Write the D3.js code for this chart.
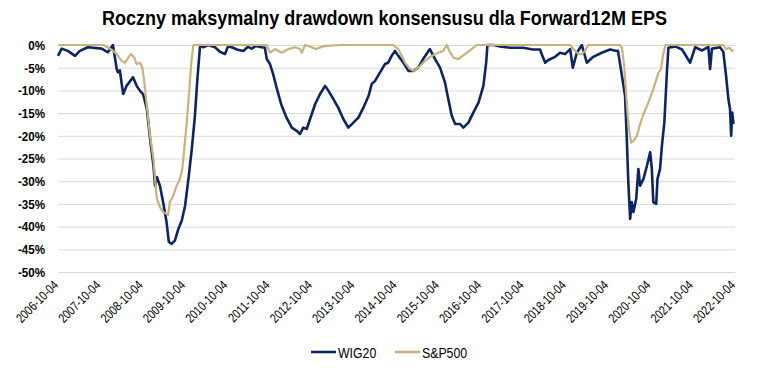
<!DOCTYPE html>
<html>
<head>
<meta charset="utf-8">
<script src="https://cdn.jsdelivr.net/npm/d3@7"></script>
<style>
  body { margin: 0; background: #fff; }
  svg { display: block; }
  text { font-family: "Liberation Sans", Arial, sans-serif; }
</style>
</head>
<body>
<svg id="chart" width="760" height="378"></svg>
<script>
/* ---- data ---- */

var title = "Roczny maksymalny drawdown konsensusu dla Forward12M EPS"

var xTickLabels = ["2006-10-04","2007-10-04","2008-10-04","2009-10-04","2010-10-04","2011-10-04",
  "2012-10-04","2013-10-04","2014-10-04","2015-10-04","2016-10-04","2017-10-04","2018-10-04",
  "2019-10-04","2020-10-04","2021-10-04","2022-10-04"]

var yTicks = [0,-5,-10,-15,-20,-25,-30,-35,-40,-45,-50]

var seriesNames = ["WIG20","S&P500"]

// WIG20 drawdown, %
var wigDates = ["2006-10-04","2006-11-05","2006-12-28","2007-02-28","2007-04-11","2007-06-19","2007-10-16",
  "2007-12-09","2008-01-21","2008-02-23","2008-03-04","2008-03-21","2008-04-06","2008-04-19","2008-05-18",
  "2008-07-12","2008-08-13","2008-09-11","2008-10-07","2008-11-09","2008-12-07","2009-01-05","2009-01-19",
  "2009-02-04","2009-03-02","2009-03-29","2009-04-28","2009-05-18","2009-06-11","2009-07-09","2009-08-08",
  "2009-09-06","2009-10-05","2009-11-03","2009-12-02","2009-12-29","2010-01-19","2010-02-12","2010-03-10",
  "2010-04-22","2010-06-20","2010-08-02","2010-09-15","2010-10-10","2010-11-12","2010-12-26","2011-02-20",
  "2011-04-01","2011-05-02","2011-06-09","2011-07-27","2011-08-25","2011-09-10","2011-10-08","2011-11-06",
  "2011-12-05","2012-01-17","2012-02-28","2012-04-13","2012-05-25","2012-06-23","2012-07-21","2012-08-20",
  "2012-09-18","2012-11-01","2012-12-13","2013-01-26","2013-02-24","2013-04-07","2013-05-19","2013-07-02",
  "2013-08-14","2013-09-27","2013-11-09","2013-12-22","2014-02-05","2014-03-04","2014-04-02","2014-05-14",
  "2014-06-26","2014-07-24","2014-08-23","2014-09-21","2014-10-20","2014-12-03","2015-01-15","2015-02-27",
  "2015-04-10","2015-05-22","2015-07-19","2015-09-02","2015-10-15","2015-11-27","2015-12-25","2016-01-24",
  "2016-02-22","2016-04-05","2016-05-03","2016-06-16","2016-07-28","2016-09-11","2016-10-23","2016-11-16",
  "2016-11-27","2017-01-18","2017-03-15","2017-06-10","2017-10-01","2017-12-26","2018-02-25","2018-03-10",
  "2018-04-09","2018-05-07","2018-07-04","2018-08-16","2018-09-28","2018-11-11","2018-12-04","2019-01-08",
  "2019-02-20","2019-04-04","2019-05-29","2019-08-11","2019-10-21","2019-12-18","2019-12-29","2020-02-01",
  "2020-02-28","2020-03-14","2020-03-27","2020-04-12","2020-04-26","2020-05-10","2020-06-03","2020-06-22",
  "2020-07-07","2020-08-05","2020-09-04","2020-10-02","2020-10-16","2020-10-29","2020-11-23","2020-12-04",
  "2020-12-26","2021-01-11","2021-02-01","2021-02-23","2021-03-08","2021-05-05","2021-07-04","2021-09-12",
  "2021-10-25","2021-12-24","2022-02-16","2022-03-03","2022-03-19","2022-05-28","2022-06-25","2022-07-19",
  "2022-08-08","2022-08-22","2022-09-01","2022-09-10","2022-09-21"]
var wigValues = [-2.4,-0.8,-1.3,-2.4,-1.3,-0.5,-0.8,
  -1.6,0,-5.3,-6,-5.6,-8.6,-10.8,-9,
  -7.1,-9,-10.1,-10.8,-14.1,-20.7,-26.6,-31,
  -29.1,-31,-34.6,-39,-43.4,-43.8,-43.1,-40.5,
  -38.7,-35.4,-29.5,-22.9,-15.6,-7.5,0,-0.5,
  0,-0.5,-1.5,-2,-0.3,-0.5,-1,-1.3,
  -0.4,-0.8,-0.2,-0.5,-0.6,-3.1,-4.2,-6.6,
  -9.5,-13.4,-16,-18.2,-18.9,-19.6,-18.2,-18.5,
  -16.3,-13,-10.8,-9,-10.1,-11.9,-13.8,-16.3,
  -18.2,-17.1,-16,-13.8,-11.2,-8.6,-7.9,-6.1,
  -4.2,-3.9,-2.4,-1.3,-2.4,-3.9,-5.7,-5.7,
  -5,-3.1,-0.9,-3.1,-5,-8.3,-11.9,-15.6,
  -17.4,-17.4,-18.2,-17.1,-14.9,-12.7,-9,-3.9,
  0,0,-0.3,-0.6,-0.6,-1,-1,-2,
  -3.9,-3.3,-2.6,-1.7,-2,-0.9,-5,-1.7,
  0,-3.9,-2.6,-1.7,-1,-1.3,-1.3,-6.8,
  -11.2,-20.7,-30.2,-38.3,-34.6,-36.8,-33.9,-27.3,
  -31,-29.5,-26.6,-23.6,-27.3,-34.6,-35,-29.5,
  -27.3,-22.2,-17.1,-6.1,-0.6,-0.3,-1,-3.9,
  -0.5,-1.2,-0.4,-5.3,-0.8,-0.5,-1.5,-6.8,
  -11.9,-14.1,-20,-14.9,-17.4]

// S&P500 drawdown, %
var spxDates = ["2006-10-04","2007-10-29","2007-12-12","2008-01-24","2008-02-23","2008-04-06","2008-05-04",
  "2008-06-02","2008-06-24","2008-07-23","2008-08-13","2008-09-11","2008-10-01","2008-10-18","2008-11-09",
  "2008-12-07","2009-01-05","2009-01-19","2009-02-04","2009-03-02","2009-03-29","2009-04-28","2009-05-12",
  "2009-05-26","2009-06-25","2009-07-24","2009-08-22","2009-09-11","2009-09-28","2009-10-19","2009-11-09",
  "2009-11-25","2009-12-15","2011-09-10","2011-10-08","2011-11-20","2012-01-17","2012-03-14","2012-05-11",
  "2012-06-23","2012-07-08","2012-08-06","2012-10-03","2012-11-01","2013-01-26","2013-06-18","2014-09-05",
  "2014-10-20","2014-11-19","2014-12-17","2015-01-29","2015-02-27","2015-04-10","2015-06-07","2015-08-04",
  "2015-09-30","2015-11-13","2015-11-27","2015-12-12","2016-01-10","2016-02-08","2016-03-20","2016-05-17",
  "2016-07-14","2016-08-27","2018-11-11","2018-12-09","2019-01-22","2019-02-20","2019-03-19","2019-04-17",
  "2020-01-14","2020-02-01","2020-02-20","2020-03-08","2020-03-22","2020-04-06","2020-04-20","2020-05-10",
  "2020-06-09","2020-07-07","2020-08-05","2020-09-04","2020-10-02","2020-10-29","2020-11-29","2020-12-13",
  "2021-01-03","2021-01-20","2021-02-10","2022-06-25","2022-07-19","2022-08-17","2022-09-07","2022-09-21"]
var spxValues = [0,0,-0.6,-1.3,-2,-3.5,-3.9,
  -2.8,-2,-2.8,-4.2,-3.9,-5,-8.3,-13.4,
  -20,-25.1,-29.5,-33.9,-35.7,-36.8,-37.2,-37.5,
  -34.6,-33.2,-31,-29.5,-27.3,-22.9,-17.1,-10.5,
  -4.6,0,0,-1.7,-0.9,-1.7,-0.9,-0.5,
  -0.9,-1.7,0,-0.5,-0.9,-0.2,0,0,
  -0.9,-2.4,-3.9,-5.3,-5.7,-5,-3.5,-2.4,
  -1.7,-1.3,-0.6,0,-1.7,-2.8,-3.1,-2,
  -0.9,0,0,-0.9,-2,-2,-1.3,0,
  0,-0.6,-4.6,-10.5,-15.6,-19.3,-21.5,-21.1,
  -20,-17.4,-15.2,-13.4,-11.6,-9.7,-7.2,-6.1,
  -5.3,-2.4,0,0,-0.9,-0.6,-1.3,-1.0]

/* ---- layout ---- */

var width = 760, height = 378
var margin = {left: 58, right: 25, top: 45, bottom: 106}
var colors = ["#0d2663", "#c9b27c"]

var parse = d3.timeParse("%Y-%m-%d")

var svg = d3.select("#chart")

var x = d3.scaleTime()
    .domain([parse("2006-10-04"), parse("2022-10-04")])
    .range([margin.left, width - margin.right])

var y = d3.scaleLinear()
    .domain([-50, 0])
    .range([height - margin.bottom, margin.top])

/* no narrow font installed: squeeze text horizontally */
function squeeze(sel, k) {
    sel.each(function() {
        var w = this.getComputedTextLength()
        d3.select(this)
            .attr("textLength", w * k)
            .attr("lengthAdjust", "spacingAndGlyphs")
    })
}

/* title */
svg.append("text")
    .attr("x", 102)
    .attr("y", 25)
    .attr("font-size", 21)
    .attr("font-weight", "bold")
    .attr("fill", "#000")
    .attr("textLength", 565)
    .attr("lengthAdjust", "spacingAndGlyphs")
    .text(title)

/* gridlines + y labels */
var yAxis = d3.axisLeft(y)
    .tickValues(yTicks)
    .tickSize(-(width - margin.left - margin.right))
    .tickPadding(13)
    .tickFormat(function(d) { return d + "%" })

svg.append("g")
    .attr("class", "y-axis")
    .attr("transform", "translate(" + margin.left + ",0)")
    .call(yAxis)
    .call(function(g) {
        g.select(".domain").remove()
        g.selectAll("line").attr("stroke", "#d9d9d9").attr("stroke-width", 1)
        g.selectAll("text")
            .attr("font-size", 13.5)
            .attr("font-weight", "bold")
            .attr("fill", "#000")
            .style("font-family", null)
            .call(squeeze, 0.86)
    })

/* x labels */
var xg = svg.append("g").attr("class", "x-axis")
xg.selectAll("text")
    .data(xTickLabels)
    .enter()
    .append("text")
    .attr("text-anchor", "end")
    .attr("font-size", 13)
    .attr("fill", "#000")
    .attr("transform", function(d) {
        return "translate(" + (x(parse(d)) + 1) + "," + (height - margin.bottom + 14) + ") rotate(-45)"
    })
    .text(function(d) { return d })
    .call(squeeze, 0.8)

/* lines */
var line = d3.line()
    .x(function(d) { return x(d.date) })
    .y(function(d) { return y(d.value) })

function toPoints(dates, values) {
    return dates.map(function(d, i) { return {date: parse(d), value: values[i]} })
}

var allSeries = [toPoints(wigDates, wigValues), toPoints(spxDates, spxValues)]

svg.append("path")
    .datum(allSeries[0])
    .attr("fill", "none")
    .attr("stroke", colors[0])
    .attr("stroke-width", 2.6)
    .attr("stroke-linejoin", "round")
    .attr("d", line)

svg.append("path")
    .datum(allSeries[1])
    .attr("fill", "none")
    .attr("stroke", colors[1])
    .attr("stroke-width", 2.2)
    .attr("stroke-linejoin", "round")
    .attr("d", line)

/* legend */
var legendX = [311, 395]
var legend = svg.append("g").attr("class", "legend")
seriesNames.forEach(function(name, i) {
    legend.append("line")
        .attr("x1", legendX[i]).attr("x2", legendX[i] + 25)
        .attr("y1", 352).attr("y2", 352)
        .attr("stroke", colors[i])
        .attr("stroke-width", 2.6)
    legend.append("text")
        .attr("x", legendX[i] + 27)
        .attr("y", 357.5)
        .attr("font-size", 15)
        .attr("fill", "#000")
        .text(name)
        .call(squeeze, 0.82)
})
</script>
</body>
</html>
